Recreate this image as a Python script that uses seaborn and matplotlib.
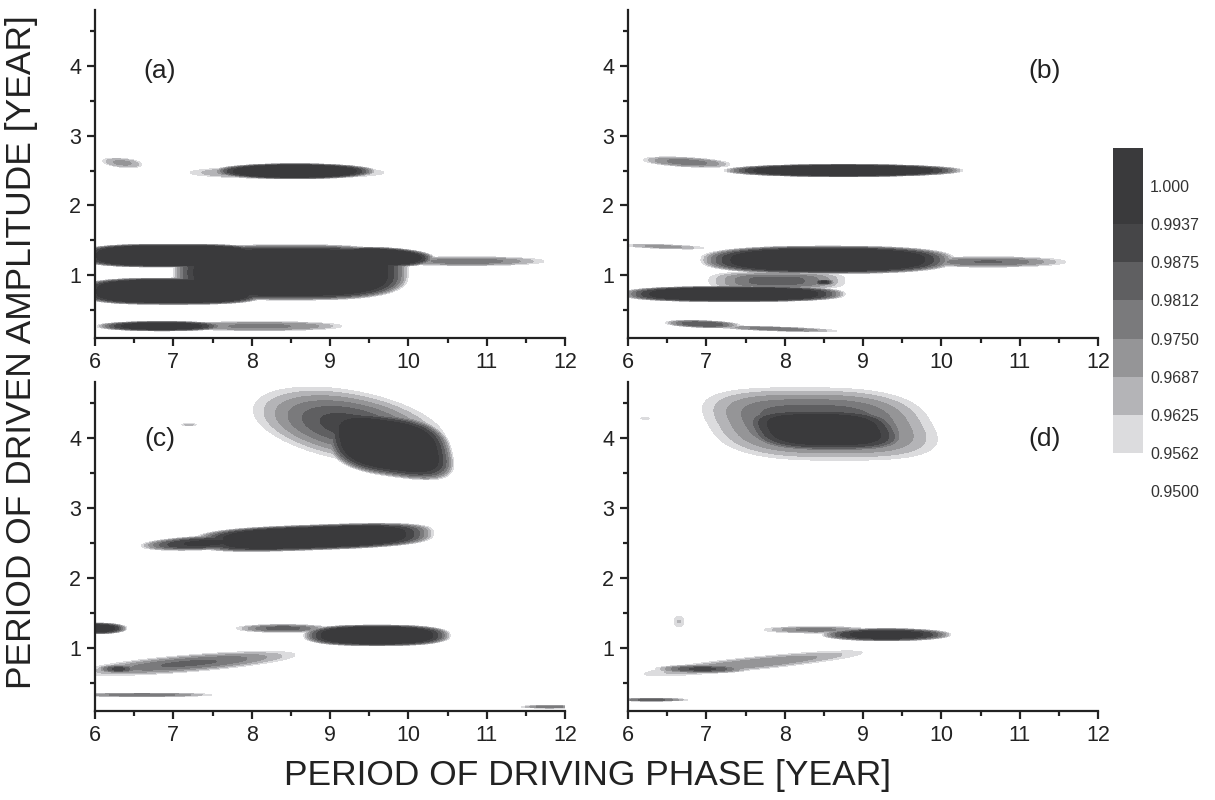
import numpy as np
import matplotlib
matplotlib.use("Agg")
import matplotlib.pyplot as plt
import seaborn as sns

sns.set_theme(style="ticks")
plt.rcParams['font.family'] = ['Liberation Sans', 'DejaVu Sans']

# ---- data: correlation "islands" per panel ----
# each entry: (x-centre, y-centre, x-halfwidth, y-halfwidth, peak value,
#              edge sharpness, tilt dy/dx, shear dx/dy, shape exponent)
blobs_a = [
    (6.35, 2.61, 0.28, 0.07, 0.970, 3, -0.10, 0.0, 2),
    (8.55, 2.49, 1.05, 0.11, 1.003, 6, 0.0, 0.0, 2),
    (8.45, 2.47, 1.35, 0.09, 0.976, 3, 0.0, 0.0, 2),
    (8.50, 1.04, 1.52, 0.40, 1.004, 8, 0.0, 0.0, 3),
    (7.00, 1.28, 1.20, 0.165, 1.004, 8, 0.0, 0.0, 3),
    (7.00, 0.77, 1.20, 0.19, 1.004, 8, 0.0, 0.0, 3),
    (9.60, 1.26, 0.75, 0.14, 1.003, 6, -0.03, 0.0, 2),
    (10.75, 1.20, 1.10, 0.07, 0.980, 2, 0.0, 0.0, 2),
    (6.85, 0.27, 0.85, 0.07, 1.000, 4, 0.0, 0.0, 2),
    (8.10, 0.27, 1.15, 0.07, 0.976, 3, 0.0, 0.0, 2),
]
blobs_b = [
    (8.75, 2.50, 1.55, 0.09, 1.002, 6, 0.0, 0.0, 2),
    (6.75, 2.62, 0.60, 0.07, 0.977, 3, -0.06, 0.0, 2),
    (8.55, 1.22, 1.65, 0.20, 1.003, 6, 0.0, 0.0, 2.5),
    (10.60, 1.19, 1.10, 0.08, 0.982, 2, 0.0, 0.0, 2),
    (6.45, 1.41, 0.60, 0.03, 0.972, 2, -0.04, 0.0, 2),
    (7.90, 0.92, 0.95, 0.14, 0.986, 2, 0.0, 0.0, 3),
    (8.50, 0.90, 0.15, 0.04, 0.996, 2, 0.0, 0.0, 2),
    (7.35, 0.73, 1.45, 0.11, 1.002, 6, 0.0, 0.0, 2.5),
    (6.95, 0.30, 0.50, 0.05, 0.986, 3, -0.04, 0.0, 2),
    (7.90, 0.23, 0.85, 0.03, 0.980, 2, -0.04, 0.0, 2),
]
blobs_c = [
    (9.75, 3.90, 0.80, 0.45, 1.003, 6, -0.15, -0.2, 3),
    (9.25, 4.18, 1.35, 0.55, 0.993, 1.6, -0.18, 0.0, 2),
    (8.80, 2.58, 1.55, 0.18, 1.003, 6, 0.04, 0.0, 3),
    (7.40, 2.50, 0.85, 0.10, 0.995, 3, 0.05, 0.0, 2),
    (9.60, 1.18, 0.95, 0.15, 1.003, 6, 0.0, 0.0, 2.5),
    (8.40, 1.28, 0.65, 0.06, 0.985, 2, 0.0, 0.0, 2),
    (6.00, 1.28, 0.42, 0.08, 1.000, 4, 0.0, 0.0, 2),
    (7.20, 0.78, 1.50, 0.13, 0.983, 2, 0.09, 0.0, 2),
    (6.30, 0.70, 0.30, 0.06, 0.990, 2, 0.0, 0.0, 2),
    (6.60, 0.33, 1.00, 0.025, 0.980, 2, 0.0, 0.0, 2),
    (11.80, 0.16, 0.40, 0.02, 0.980, 2, 0.0, 0.0, 2),
    (7.20, 4.19, 0.12, 0.015, 0.966, 2, 0.0, 0.0, 2),
]
blobs_d = [
    (8.45, 4.20, 1.55, 0.56, 0.990, 2, 0.0, -0.5, 3),
    (8.50, 4.12, 1.05, 0.32, 1.000, 5, 0.0, -0.5, 3),
    (9.30, 1.19, 0.85, 0.09, 0.998, 4, 0.0, 0.0, 2),
    (8.40, 1.26, 0.75, 0.05, 0.978, 2, 0.0, 0.0, 2),
    (6.95, 0.70, 0.65, 0.06, 0.990, 2, 0.0, 0.0, 2),
    (7.60, 0.78, 1.60, 0.10, 0.975, 2, 0.11, 0.0, 2),
    (6.65, 1.38, 0.08, 0.10, 0.963, 2, 0.0, 0.0, 2),
    (6.30, 0.26, 0.50, 0.02, 0.985, 2, 0.0, 0.0, 2),
    (6.22, 4.28, 0.08, 0.015, 0.962, 2, 0.0, 0.0, 2),
]
panel_labels = ["(a)", "(b)", "(c)", "(d)"]
label_pos = [(6.83, 3.93), (11.32, 3.93), (6.83, 3.99), (11.32, 3.99)]

# filled bands (top band spans 0.99375 .. 1.00625, labelled at 1.000)
levels = [0.95, 0.95625, 0.9625, 0.96875, 0.975, 0.98125, 0.9875, 0.99375, 1.00625]
tick_values = [0.95, 0.95625, 0.9625, 0.96875, 0.975, 0.98125, 0.9875, 0.99375, 1.0]
level_text = ["0.9500", "0.9562", "0.9625", "0.9687", "0.9750", "0.9812", "0.9875", "0.9937", "1.000"]
fill_colors = ["#ffffff", "#dcdcde", "#b4b4b7", "#959597", "#7a7a7c", "#5f5f61",
               "#464648", "#3a3a3c"]

xs = np.linspace(6, 12, 301)
ys = np.linspace(0.1, 4.8, 471)
X, Y = np.meshgrid(xs, ys)


def field(blobs):
    Z = np.full_like(X, 0.90)
    for cx, cy, ax_, ay_, peak, n, tilt, shear, p in blobs:
        dy = Y - cy - tilt * (X - cx)
        dx = X - cx - shear * (Y - cy)
        r = (np.abs(dx / ax_) ** p + np.abs(dy / ay_) ** p) ** (1.0 / p)
        v = peak - (peak - 0.95) * r ** n
        Z = np.maximum(Z, v)
    return np.clip(Z, 0.90, 1.006)


W, H = 1215, 800
fig = plt.figure(figsize=(W / 100, H / 100), dpi=100)
boxes = [(95, 10, 565, 338), (628, 10, 1098, 338), (95, 382, 565, 711), (628, 382, 1098, 711)]
txt = "#222222"
cs = None
for i, (blobs, box) in enumerate(zip([blobs_a, blobs_b, blobs_c, blobs_d], boxes)):
    l, t, r, b = box
    ax = fig.add_axes([l / W, 1 - b / H, (r - l) / W, (b - t) / H])
    cs = ax.contourf(X, Y, field(blobs), levels=levels, colors=fill_colors)
    cs.set_edgecolor("face")
    cs.set_linewidth(0.3)
    ax.set_xlim(6, 12)
    ax.set_ylim(0.1, 4.8)
    ax.set_xticks(range(6, 13))
    ax.set_xticks(np.arange(6.5, 12, 1.0), minor=True)
    ax.set_yticks([1, 2, 3, 4])
    ax.set_yticks([0.5, 1.5, 2.5, 3.5, 4.5], minor=True)
    ax.tick_params(which="major", direction="out", length=6, width=1.6,
                   labelsize=15.5, colors="#222222", pad=4)
    ax.tick_params(which="minor", direction="out", length=3.5, width=1.6, colors="#222222")
    sns.despine(ax=ax)
    for s in ("left", "bottom"):
        ax.spines[s].set_linewidth(1.6)
        ax.spines[s].set_color("#222222")
    ax.set_facecolor("white")
    ax.text(*label_pos[i], panel_labels[i], fontsize=19, color=txt, ha="center", va="center")

cax = fig.add_axes([1113 / W, 1 - 491 / H, 30 / W, 343 / H])
cb = fig.colorbar(cs, cax=cax, spacing="proportional")
cb.outline.set_visible(False)
cb.set_ticks(tick_values)
cb.ax.set_yticklabels(level_text)
cb.ax.minorticks_off()
cb.ax.tick_params(length=0, labelsize=11.5, colors="#333333", pad=5)

fig.text(22 / W, 1 - 352 / H, "PERIOD OF DRIVEN AMPLITUDE [YEAR]", rotation=90,
         fontsize=25.5, color=txt, ha="center", va="center")
fig.text(588 / W, 1 - 776 / H, "PERIOD OF DRIVING PHASE [YEAR]",
         fontsize=25.5, color=txt, ha="center", va="center")

fig.savefig("out.png", dpi=100, facecolor="white")
